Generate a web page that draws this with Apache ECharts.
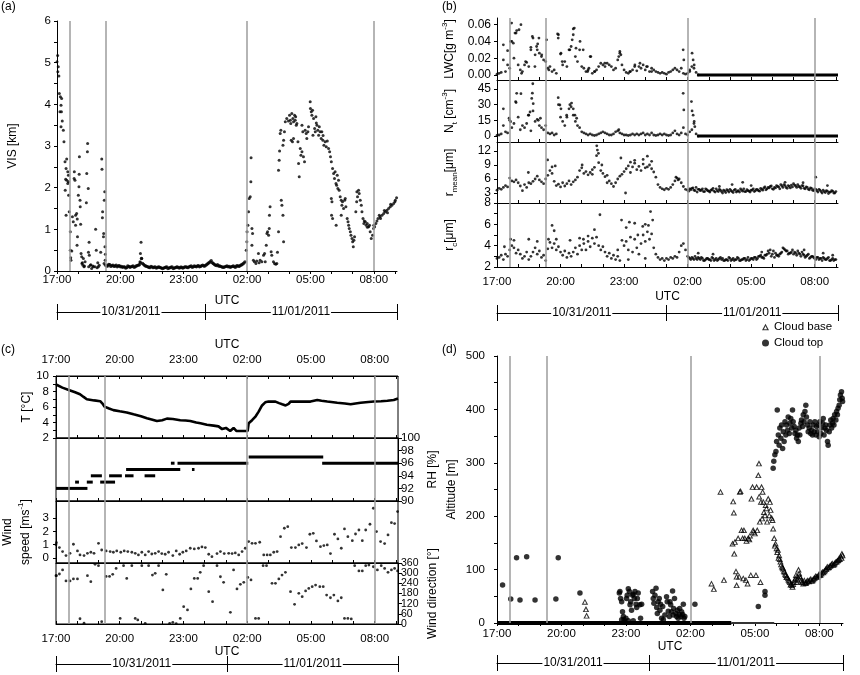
<!DOCTYPE html>
<html>
<head>
<meta charset="utf-8">
<title>Fog event 10/31-11/01/2011</title>
<script src="https://cdn.jsdelivr.net/npm/echarts@6.0.0/dist/echarts.min.js"></script>
<style>
  html, body { margin: 0; padding: 0; background: #fff; }
  #chart { width: 860px; height: 675px; }
</style>
</head>
<body>
<div id="chart"></div>
<script>
// time is given in hours since 10/31/2011 00:00 UTC (so 26 = 02:00 on 11/01)
var tMin = 17, tMax = 33.1;
var utcTicks = [17, 20, 23, 26, 29, 32];
var hourTicks = [17, 18, 19, 20, 21, 22, 23, 24, 25, 26, 27, 28, 29, 30, 31, 32, 33];
var eventTimes = [17.6, 19.3, 26.0, 32.0];
var dateLabels = ['10/31/2011', '11/01/2011'];
var dateSplits = [24.0, 25.0, 25.07, 24.07];

// (a) visibility [km]
var visBandStart = 19.3, visBandStep = 0.1;
var visBand = [0.14,0.12,0.15,0.13,0.11,0.14,0.12,0.1,
  0.09,0.1,0.08,0.11,0.1,0.12,0.1,0.13,0.15,0.3,
  0.16,0.12,0.1,0.08,0.1,0.09,0.07,0.1,0.08,0.06,
  0.08,0.1,0.07,0.09,0.06,0.08,0.1,0.07,0.09,0.08,
  0.1,0.08,0.11,0.09,0.12,0.1,0.13,0.11,0.14,0.12,
  0.16,0.2,0.25,0.18,0.14,0.15,0.12,0.1,0.09,0.11,
  0.1,0.09,0.11,0.1,0.12,0.11,0.14,0.17,0.22];
var visBand2Start = 19.35;
var visBand2 = [0.12,0.16,0.11,0.14,0.12,0.1,0.13,0.11,
  0.1,0.07,0.12,0.09,0.11,0.09,0.12,0.14,0.2,0.18,
  0.13,0.11,0.09,0.11,0.08,0.1,0.08,0.09,0.07,0.07,
  0.09,0.06,0.08,0.1,0.07,0.09,0.08,0.09,0.07,0.1,
  0.09,0.1,0.12,0.1,0.11,0.12,0.1,0.13,0.12,0.14,
  0.18,0.22,0.2,0.16,0.13,0.12,0.11,0.09,0.1,0.12,
  0.11,0.1,0.12,0.09,0.13,0.12,0.15,0.19];
var visPoints = [[17.0,5.02],[17.03,5.17],[17.06,4.9],[17.04,4.78],[17.09,4.68],[17.11,4.26],[17.16,4.18],[17.22,4.14],[17.19,3.98],[17.14,3.82],[17.21,3.82],[17.19,3.46],[17.25,3.6],[17.3,3.38],[17.33,3.1],[17.38,2.62],[17.46,2.69],[17.43,2.46],[17.51,2.38],[17.54,2.3],[17.41,2.2],[17.46,2.18],[17.54,2.14],[17.51,2.1],[17.39,1.94],[17.55,1.82],[17.43,1.34],[17.58,1.42],[17.63,0.94],[17.63,0.5],[17.7,0.48],[17.65,0.32],[17.66,0.26],[17.73,1.3],[17.77,1.18],[17.82,2.38],[17.81,2.22],[17.85,2.18],[17.88,1.34],[17.88,1.1],[17.93,1.38],[17.96,1.25],[17.95,0.62],[17.97,0.82],[18.01,1.82],[18.04,2.02],[18.06,2.74],[18.05,2.32],[18.09,1.7],[18.1,1.54],[18.12,1.12],[18.14,0.42],[18.17,0.34],[18.18,0.18],[18.23,0.14],[18.25,0.3],[18.33,0.22],[18.39,1.64],[18.41,2.34],[18.44,2.86],[18.45,3.06],[18.48,1.98],[18.52,0.69],[18.49,0.45],[18.53,0.38],[18.58,0.14],[18.64,0.06],[18.72,0.1],[18.83,1.0],[18.86,0.5],[18.93,0.2],[18.96,0.1],[19.07,0.45],[19.12,2.69],[19.13,2.44],[19.15,1.28],[19.16,1.42],[19.2,0.82],[19.21,0.9],[19.24,1.7],[19.26,1.9],[19.27,0.58],[19.29,0.4],[19.23,0.18],[19.28,0.26],
  [18.2,0.2],[18.3,0.12],[18.5,0.1],[18.6,0.15],[18.7,0.12],[18.8,0.1],[19.0,0.14],[18.9,0.08],[18.28,0.1],
  [20.98,0.69],[20.95,0.42],[21.01,0.3],[20.93,0.22],
  [25.96,0.5],[25.99,0.7],[26.0,0.94],[26.04,1.1],[26.07,1.42],[26.1,1.74],[26.15,1.78],[26.18,2.14],[26.19,2.72],[26.23,1.02],[26.23,0.62],[26.26,0.9],[26.3,0.26],[26.35,0.22],[26.42,0.18],[26.46,0.24],[26.54,0.42],[26.57,0.2],[26.62,0.26],[26.7,0.22],[26.78,0.38],[26.83,0.42],[26.86,0.22],[26.91,0.62],[26.94,0.9],[26.97,0.94],[27.02,0.86],[27.05,1.02],[27.06,1.34],[27.09,1.54],[27.14,0.46],[27.17,0.38],[27.25,0.22],[27.3,0.18],[27.36,0.16],[27.41,0.18],[27.44,0.45],[27.49,0.94],[27.49,2.42],[27.52,2.66],[27.54,2.88],[27.57,3.3],[27.6,3.38],[27.62,1.7],[27.65,1.58],[27.7,1.34],[27.73,0.7],[27.7,3.02],[27.73,3.14],[27.77,3.34],[27.81,3.58],[27.88,3.66],[27.96,3.6],[28.01,3.74],[28.07,3.54],[28.12,3.78],[28.17,3.66],[28.2,3.58],[28.25,3.74],[28.28,3.62],[28.33,3.5],[28.2,3.18],[28.15,3.1],[28.09,3.14],[28.36,3.54],[28.41,3.1],[28.44,2.58],[28.47,2.26],[28.52,2.94],[28.55,2.78],[28.6,3.5],[28.6,2.86],[28.64,3.34],[28.67,2.74],[28.72,2.62],[28.75,3.38],[28.8,3.3],[28.83,3.18],[28.88,3.34],[28.91,3.46],[28.99,4.06],[29.04,3.82],[29.07,3.74],[29.1,3.86],[29.12,3.26],[29.15,3.66],[29.2,3.42],[29.23,3.34],[29.26,3.7],[29.31,3.5],[29.35,3.38],[29.39,3.26],[29.42,3.46],[29.46,3.34],[29.51,3.18],[29.54,3.34],[29.59,3.14],[29.64,3.02],[29.7,3.1],[29.75,2.98],[29.8,3.12],[29.86,2.94],[29.91,2.86],[29.95,2.74],[29.99,2.62],[30.05,2.46],[30.1,2.34],[30.14,2.22],[30.17,2.38],[30.21,2.1],[30.24,2.06],[30.27,2.3],[30.3,1.98],[30.33,2.18],[30.36,1.94],[29.99,1.74],[30.02,1.66],[30.0,1.34],[30.05,1.26],[30.41,1.78],[30.46,1.7],[30.49,1.58],[30.52,1.66],[30.57,1.5],[30.62,1.7],[30.65,1.74],[30.68,1.54],[30.22,1.1],[30.46,1.34],[30.74,1.26],[30.78,1.18],[30.81,1.1],[30.84,1.02],[30.89,0.94],[30.92,0.86],[30.97,0.78],[31.0,0.7],[31.03,0.58],[31.06,0.74],[31.09,0.82],[31.15,1.42],[31.19,1.66],[31.23,1.78],[31.28,1.94],[31.31,1.86],[31.36,1.7],[31.41,1.58],[31.44,1.42],[31.49,1.26],[31.53,1.14],[31.6,1.18],[31.64,1.1],[31.69,1.14],[31.76,1.06],[31.8,1.1],[31.83,0.94],[31.88,0.78],[31.94,0.86],[31.99,1.02],[32.04,1.06],[32.1,1.14],[32.2,1.26],[32.26,1.34],[32.32,1.26],[32.39,1.34],[32.47,1.38],[32.55,1.42],[32.62,1.46],[32.7,1.5],[32.78,1.54],[32.86,1.58],[32.94,1.62],[33.02,1.7],[33.08,1.76],
  [28.05,3.62],[28.3,3.7],[29.0,3.9],[29.28,3.55],[29.6,3.25],[31.55,1.2],[31.7,1.05],[32.0,1.1],[32.15,1.2],[32.3,1.3],[32.5,1.45],[32.65,1.4],[32.8,1.6],[33.0,1.66],[31.2,1.9]];

// (b) microphysics, sampled every 0.1 h from 17:00
var bStart = 17.0, bStep = 0.1;
var lwcValues = [0.001,0.002,0.003,0.018,0.004,0.012,
  0.008,0.04,0.02,0.05,0.012, 0.006,0.004,0.012,0.015,0.01, 0.03,0.044,0.024,0.03,0.026,
  0.022,0.018,0.016,0.008,0.01, 0.004,0.006,0.002,0.048,0.025, 0.012,0.016,0.01,0.03,0.034,
  0.055,0.022,0.016,0.03,0.01, 0.008,0.004,0.006,0.022,0.002, 0.004,0.006,0.01,0.014,0.012,
  0.01,0.014,0.012,0.01,0.006, 0.008,0.018,0.026,0.012,0.006, 0.003,0.002,0.004,0.006,0.01,
  0.005,0.01,0.008,0.012,0.006, 0.01,0.004,0.008,0.006,0.004, 0.003,0.002,0.003,0.002,0.001,
  0.003,0.004,0.006,0.008,0.006, 0.004,0.008,0.002,0.001,0.002, 0.006,0.01,0.008,0.003,0.0];
var lwcExtra = [[17.3,0.036],[17.5,0.029],[17.64,0.04],[17.69,0.062],[17.77,0.038],[17.85,0.05],[17.93,0.053],[18.04,0.054],[18.13,0.06],[18.16,0.002],[18.35,0.016],[18.6,0.033],[18.67,0.046],[18.79,0.01],[18.87,0.034],[18.92,0.037],[18.98,0.044],[19.11,0.024],[19.34,0.042],[19.45,0.006],[19.86,0.049],[19.89,0.044],[20.02,0.026],[20.08,0.016],[20.44,0.03],[20.55,0.042],[20.6,0.048],[20.65,0.056],[20.73,0.032],[20.92,0.04],[21.07,0.03],[21.28,0.004],[21.34,0.008],[21.43,0.022],[21.62,0.004],[22.09,0.014],[22.75,0.022],[22.8,0.028],[22.85,0.024],[23.27,0.004],[23.51,0.012],[23.75,0.014],[24.06,0.01],[24.3,0.004],[25.79,0.03],[25.82,0.018],[26.21,0.026],[26.26,0.018],[26.31,0.012],[26.1,0.004]];
var lwcZeroSpan = [26.45, 33.1];
var ntValues = [0.5,1,2,10,4,3,
  15,8,12,32,18, 6,10,8,12,20, 5,24,14,16,10, 8,6,10,3,2, 3,1,2,30,18, 14,10,18,26,28,
  20,14,10,8,4, 3,2,1,2,1, 0.5,1,2,3,4, 3,2,1,1,2, 4,5,3,2,1, 1,0.5,1,2,1,
  2,1,2,3,1, 2,1,3,1,0.5, 1,2,1,2,1, 0.5,1,3,5,2, 1,3,8,2,1, 4,6,12,2,0];
var ntExtra = [[17.3,26],[17.57,17],[17.64,13.7],[17.88,33],[17.93,40.9],[18.13,40.5],[18.48,20],[18.56,23],[18.64,36],[18.67,41],[18.69,50],[18.71,31],[18.95,15],[19.05,17],[19.89,36.7],[19.97,29.7],[20.02,26],[20.29,20],[20.44,30],[20.52,31.5],[20.6,26],[20.68,20],[20.76,17],[22.75,6],[25.79,40.9],[25.82,25],[26.18,33],[26.21,24],[26.26,20],[26.31,14],[26.34,9]];
var ntZeroSpan = [26.45, 33.1];
var rmeanValues = [3.6,4.0,3.8,4.2,4.6,4.3,
  6.2,5.6,5.4,5.8,5.2, 4.5,3.5,4.8,4.2,5.2, 5.0,5.5,6.0,6.6,5.8, 5.4,5.0,6.0,6.8,7.8,
  8.6,5.5,4.6,4.9,4.3, 5.2,4.5,5.0,5.6,4.8, 5.4,5.8,6.4,7.8,8.4, 7.2,7.6,6.9,7.4,7.0,
  8.5,11.0,9.5,7.8,7.2, 6.5,6.8,5.6,5.0,4.4, 5.2,6.0,6.6,7.0,7.6, 8.2,8.8,7.4,8.6,9.4,
  8.0,8.7,7.8,9.2,8.4, 8.6,9.0,8.2,7.5,6.4, 4.8,4.2,3.9,3.7,4.0, 3.8,4.2,4.8,5.6,6.2,
  6.0,5.2,4.4,3.8,3.6,
  3.9,4.0,3.6,4.2,3.8,3.5,3.9,3.3,3.7,3.4, 3.6,4.0,3.2,3.5,3.8,3.3,3.6,3.1,3.5,3.8,
  3.3,3.6,3.2,3.5,3.9,3.4,3.3,3.7,3.4,3.6, 3.9,3.5,3.7,3.4,3.8,4.1,3.7,4.2,4.4,3.9,
  4.2,4.6,4.3,4.8,4.2,4.6,4.0,4.4,4.7,5.0, 4.5,4.8,4.3,4.6,4.0,4.3,3.8,4.1,3.6,3.9,
  3.5,3.8,3.3,3.6,3.1,3.4,3.2,3.5,3.0,3.3];
var rmeanBStart = 26.05;
var rmeanB = [3.4,3.7,4.1,3.5,3.2,3.8,3.6,3.3,3.9,3.5, 3.2,3.7,3.4,3.9,3.3,3.6,3.0,3.4,3.7,3.2,
  3.5,3.1,3.8,3.4,3.2,3.6,3.9,3.3,3.5,3.2, 3.6,3.3,3.8,3.5,4.0,3.6,4.3,3.9,4.1,4.5,
  3.8,4.1,4.4,3.9,4.5,4.8,4.2,4.6,4.1,4.3, 4.7,4.2,4.4,4.0,4.5,3.9,4.2,3.7,4.0,3.5,
  3.8,3.2,3.6,3.0,3.3,3.5,2.9,3.2,3.4,3.0];
var rmeanExtra = [[18.48,7.4],[19.39,10.1],[19.75,8.8],[19.6,7.2],[21.02,9.0],[21.71,13.1],[21.74,12.2],[21.79,11.5],[21.5,8.0],[22.85,10.5],[23.07,3.0],[23.3,9.6],[23.5,10.0],[23.9,10.2],[24.1,10.9],[24.3,9.8],[22.2,5.2],[21.95,9.0],[25.45,6.4],[25.55,5.8],[28.1,4.8],[28.6,5.3],[29.0,4.6],[27.5,4.4],[31.45,5.2],[32.05,6.4],[32.6,4.6],[30.6,5.3]];
var rcValues = [2.8,2.9,3.1,2.7,3.2,3.0,
  3.6,4.0,3.8,3.3,3.6, 3.2,2.8,3.0,3.4,2.7, 3.0,3.4,3.8,3.2,3.5, 2.9,3.1,2.6,3.7,4.3,
  3.8,4.2,3.6,3.9,3.4, 3.1,3.5,2.9,3.3,3.0, 3.4,3.8,3.2,4.0,3.6, 4.2,3.6,4.4,3.9,4.7,
  4.2,4.8,4.0,3.6,3.9, 3.4,3.0,3.3,2.8,3.1, 2.7,3.0,2.6,4.5,4.0, 4.4,3.6,4.8,3.4,4.6,
  3.8,3.2,4.2,5.0,4.4, 5.3,4.6,5.1,3.8,3.2, 2.9,2.7,2.8,2.6,2.8, 2.7,2.9,2.8,3.0,2.9,
  3.4,4.0,4.2,3.6,3.0,
  2.8,2.9,2.7,2.8,2.9,2.7,2.8,2.6,2.8,2.7, 2.6,2.8,2.7,2.6,2.8,2.7,2.6,2.7,2.6,2.8,
  2.7,2.6,2.7,2.8,2.6,2.7,2.8,2.7,2.6,2.8, 2.7,2.9,2.8,3.0,2.9,2.8,3.1,3.5,3.6,3.2,
  2.9,3.1,3.0,3.3,3.8,3.6,3.5,3.3,3.4,3.2, 3.3,3.5,3.2,3.4,3.1,3.0,3.2,2.9,3.0,2.8,
  2.9,2.7,2.8,2.9,2.7,2.8,2.6,2.7,2.6,2.7];
var rcBStart = 26.05;
var rcB = [2.9,2.7,2.8,3.0,2.7,2.8,2.9,2.6,2.7,2.8, 2.7,2.9,2.6,2.8,2.7,2.9,2.8,2.6,2.7,2.9,
  2.6,2.8,2.7,2.9,2.6,2.7,2.8,2.6,2.9,2.7, 2.8,2.9,2.7,3.0,3.1,2.9,3.1,3.2,3.3,3.0,
  3.5,3.3,3.1,3.2,3.4,3.7,3.5,3.2,3.3,3.6, 3.4,3.1,3.3,3.0,3.2,2.9,3.1,2.8,3.0,2.9,
  2.7,2.9,2.8,2.6,2.8,2.7,2.9,2.6,2.8,2.7];
var rcExtra = [[17.35,3.9],[17.64,4.6],[17.8,4.5],[18.5,4.6],[18.9,4.4],[19.43,4.6],[19.6,5.9],[19.7,5.4],[19.8,4.6],[20.45,4.5],[20.9,4.7],[21.08,4.6],[21.3,4.9],[21.86,6.9],[21.6,5.5],[22.88,6.4],[23.1,5.7],[23.25,6.2],[23.5,6.1],[23.65,5.0],[23.88,5.8],[24.0,6.0],[24.15,5.9],[24.25,7.2],[24.35,6.4],[24.0,2.8],[23.2,2.7],[22.7,3.6],[26.5,3.3],[27.2,3.2],[29.5,3.4],[31.5,3.6],[32.4,3.3],[32.85,3.1]];

// (c) surface meteorology
var tempPoints = [[17.0,8.9],[17.3,8.5],[17.6,8.2],[17.9,7.9],[18.13,7.65],[18.3,7.3],[18.45,7.0],[18.8,6.85],[19.08,6.75],[19.2,6.4],[19.28,6.05],[19.5,5.8],[19.7,5.6],[20.0,5.45],[20.33,5.3],[20.65,5.05],[21.0,4.8],[21.28,4.55],[21.5,4.4],[21.75,4.2],[22.0,4.3],[22.22,4.5],[22.5,4.45],[22.85,4.3],[23.1,4.25],[23.32,4.2],[23.6,4.0],[23.8,3.9],[24.1,3.7],[24.42,3.6],[24.65,3.5],[24.82,3.15],[25.0,3.3],[25.2,2.9],[25.36,3.3],[25.5,2.9],[25.8,2.9],[26.02,2.9],[26.07,3.9],[26.23,4.3],[26.4,4.8],[26.54,5.4],[26.7,6.2],[26.85,6.6],[27.0,6.7],[27.33,6.7],[27.5,6.5],[27.65,6.35],[27.81,6.2],[27.95,6.4],[28.04,6.7],[28.5,6.7],[28.98,6.7],[29.3,6.9],[29.5,6.8],[29.77,6.7],[30.24,6.55],[30.6,6.45],[30.87,6.35],[31.1,6.45],[31.34,6.55],[31.7,6.65],[31.97,6.7],[32.3,6.75],[32.6,6.8],[32.9,6.9],[33.1,7.1]];
var rhStart = [17.0, 17.9, 18.45, 18.64, 19.08, 19.5, 20.25, 20.3, 21.17, 22.41, 22.72, 23.4, 26.07, 29.53];
var rhEnd   = [18.48, 18.08, 18.73, 19.16, 19.78, 20.1, 20.65, 22.85, 21.67, 22.58, 26.05, 23.52, 29.58, 33.1];
var rhValue = [92, 93, 93, 94, 93, 94, 94, 95, 94, 96, 96, 95, 97, 96];
var windSpeed = [[17.0,1.0],[17.02,1.15],[17.16,0.78],[17.31,0.48],[17.47,0.18],[17.66,0.35],[17.82,1.03],[18.01,0.53],[18.13,0.23],[18.32,0.18],[18.48,0.35],[18.64,0.43],[18.79,0.35],[19.0,1.1],[19.15,0.6],[19.36,0.53],[19.55,0.48],[19.7,0.43],[19.86,0.53],[20.05,0.43],[20.21,0.53],[20.38,0.48],[20.57,0.43],[20.73,0.35],[20.88,0.23],[21.04,0.43],[21.2,0.23],[21.36,0.48],[21.51,0.3],[21.67,0.35],[21.83,0.48],[21.98,0.33],[22.14,0.28],[22.3,0.43],[22.5,0.18],[22.66,0.53],[22.82,0.28],[22.97,0.43],[23.13,0.53],[23.32,0.73],[23.51,0.68],[23.71,0.73],[23.87,0.83],[24.03,0.78],[24.19,0.28],[24.34,0.1],[24.58,0.33],[24.74,0.48],[24.92,0.33],[25.13,0.35],[25.29,0.33],[25.44,0.38],[25.6,0.23],[25.76,0.48],[25.91,0.73],[26.07,1.23],[26.23,1.1],[26.39,1.1],[26.59,1.18],[26.78,0.23],[26.94,0.23],[27.09,0.23],[27.25,0.43],[27.41,0.48],[27.57,1.6],[27.75,2.23],[27.91,2.35],[28.08,0.78],[28.27,0.78],[28.43,0.98],[28.59,1.08],[28.79,0.78],[28.95,1.78],[29.11,1.85],[29.26,1.28],[29.45,0.85],[29.61,0.93],[29.77,0.98],[29.92,0.33],[30.11,1.78],[30.27,1.43],[30.43,0.73],[30.58,2.18],[30.74,1.6],[30.95,1.3],[31.1,1.8],[31.26,2.1],[31.42,1.3],[31.58,2.1],[31.78,2.53],[31.94,3.73],[32.09,1.98],[32.28,1.23],[32.47,1.08],[32.63,1.73],[32.79,2.65],[32.94,2.58],[33.08,3.48]];
var windDir = [[17.0,285],[17.02,285],[17.16,295],[17.31,319],[17.47,254],[17.66,254],[17.82,266],[18.01,266],[18.13,31],[18.32,5],[18.48,285],[18.64,250],[18.84,352],[19.0,344],[19.15,14],[19.36,281],[19.52,281],[19.67,293],[19.83,328],[20.02,33],[20.18,344],[20.33,269],[20.57,344],[20.73,33],[20.85,24],[21.04,344],[21.2,4],[21.36,344],[21.54,289],[21.67,299],[21.83,344],[22.03,201],[22.19,293],[22.35,3],[22.5,10],[22.66,2],[22.85,33],[23.01,102],[23.19,83],[23.35,207],[23.51,269],[23.67,269],[23.79,305],[23.95,344],[24.19,191],[24.37,132],[24.58,344],[24.74,279],[24.89,246],[25.21,69],[25.36,319],[25.52,207],[25.68,234],[25.84,246],[26.03,275],[26.18,260],[26.39,33],[26.54,33],[26.75,344],[26.91,344],[27.17,240],[27.33,240],[27.49,266],[27.64,289],[27.8,305],[28.04,191],[28.23,116],[28.43,181],[28.59,161],[28.75,195],[28.9,210],[29.06,220],[29.22,230],[29.42,220],[29.58,220],[29.74,171],[29.92,155],[30.08,171],[30.27,136],[30.43,155],[30.58,33],[30.74,33],[30.9,30],[31.06,344],[31.26,313],[31.42,313],[31.58,344],[31.73,348],[31.94,338],[32.13,319],[32.31,344],[32.47,328],[32.63,305],[32.79,319],[32.94,328],[33.08,313]];

// (d) ceilometer cloud base / top altitude [m]
var cloudTop = [[17.26,71],[17.64,45],[17.91,122],[18.07,43],[18.38,124],[18.77,43],[19.74,45],[19.85,122],[20.86,56],
  [22.69,56],[22.72,59],[22.75,46],[22.8,40],[22.84,21],[22.88,12],[22.91,6],[22.95,2],[23.0,9],[23.03,46],[23.06,52],[23.11,64],[23.16,59],[23.19,34],[23.22,40],[23.26,24],[23.31,52],[23.34,54],[23.39,46],[23.42,59],[23.47,35],[23.5,29],[23.53,46],[23.57,56],[23.65,34],[23.68,9],[23.73,35],[22.8,6],[23.11,4],[23.34,4],
  [24.24,59],[24.27,46],[24.3,37],[24.35,52],[24.4,65],[24.43,29],[24.46,18],[24.5,40],[24.55,46],[24.58,24],[24.61,35],[24.66,9],[24.71,31],[24.74,6],[24.81,15],[24.89,49],[24.92,40],[24.97,22],[25.02,12],[25.05,40],[25.08,34],[25.12,21],[25.17,60],[25.2,15],[25.22,27],[25.26,46],[25.33,18],[25.36,12],[25.39,24],[25.43,9],[25.48,16],[25.5,27],[25.56,12],[25.59,21],[25.64,16],[25.67,35],[25.7,9],[25.74,12],
  [26.21,35],[29.16,31],[29.47,59],[29.47,52],
  [29.85,290],[29.88,303],[29.93,315],[29.98,321],[30.01,340],[30.04,399],[30.09,352],[30.13,333],[30.16,365],[30.21,346],[30.24,371],[30.29,327],[30.32,358],[30.36,340],[30.4,377],[30.44,352],[30.47,371],[30.52,361],[30.55,386],[30.6,355],[30.63,374],[30.67,383],[30.71,365],[30.75,399],[30.78,377],[30.83,368],[30.86,355],[30.91,361],[30.94,346],[30.98,352],[31.02,340],[31.06,365],[31.09,352],[31.14,374],[31.17,380],[31.22,368],[31.25,390],[31.29,377],[31.33,396],[31.37,408],[31.4,386],[31.45,371],[31.48,358],[31.53,365],[31.56,377],[31.6,355],[31.64,361],[31.68,352],[31.71,371],[31.76,358],[31.79,377],[31.84,352],[31.87,368],[31.91,358],[31.95,371],[31.99,349],[32.02,377],[32.07,355],[32.1,365],[32.15,374],[32.18,383],[32.22,352],[32.26,365],[32.3,371],[32.33,361],[32.38,340],[32.41,333],[32.46,358],[32.49,371],[32.53,380],[32.57,365],[32.61,374],[32.64,383],[32.68,371],[32.71,390],[32.77,380],[32.8,396],[32.84,390],[32.87,402],[32.92,408],[32.95,418],[32.98,427],[33.03,433],[33.06,421],[33.08,415]];
var cloudBase = [[21.09,40],[21.14,26],[21.17,14],[26.98,74],[27.09,64],[27.4,246],[27.56,81],
  [27.96,149],[27.99,228],[28.02,207],[28.04,130],[28.07,152],[28.12,97],[28.15,71],[28.15,87],[28.22,159],[28.27,87],[28.3,246],[28.33,247],[28.38,174],[28.43,159],[28.46,84],[28.49,174],[28.53,159],[28.58,81],[28.61,154],[28.66,74],[28.69,159],[28.74,157],[28.77,164],[28.81,90],[28.84,233],[28.89,255],[28.92,174],[28.95,171],[29.0,168],[29.05,90],[29.08,255],[29.11,174],[29.16,277],[29.19,299],[29.2,237],[29.23,190],[29.26,77],[29.28,227],[29.31,255],[29.34,196],[29.36,246],[29.39,227],[29.42,208],[29.47,202],[29.5,221],[29.54,215],[29.57,190],[29.62,233],[29.67,202],[29.7,227],[29.73,212],[29.78,197],[29.82,193],[29.85,177],
  [29.9,159],[29.96,149],[30.01,140],[30.07,137],[30.13,127],[30.19,115],[30.26,106],[30.32,102],[30.38,96],[30.44,90],[30.5,87],[30.57,81],[30.63,77],[30.69,74],[30.75,68],[30.81,77],[30.88,84],[30.94,77],[31.0,87],[31.06,93],[31.12,85],[31.19,77],[31.25,74],[31.33,76],[31.4,77],[31.48,79],[31.56,81],[31.64,79],[31.71,82],[31.79,85],[31.87,87],[31.95,89],[32.02,90],[32.1,93],[32.18,95],[32.26,99],[32.33,102],[32.41,104],[32.49,107],[32.57,110],[32.64,109],[32.71,112],[32.8,115],[32.88,118],[32.95,120],[33.03,122],[33.08,127],
  [29.93,145],[30.04,133],[30.1,122],[30.16,120],[30.22,110],[30.29,104],[30.35,98],[30.41,92],[30.47,86],[30.54,84],[30.6,79],[30.66,72],[30.72,71],[30.78,73],[30.85,80],[30.91,90],[30.97,82],[31.03,100],[31.09,88],[31.15,80],[31.22,78],[31.3,80],[31.37,75],[31.44,80],[31.52,78],[31.6,83],[31.68,80],[31.75,84],[31.83,88],[31.91,86],[31.99,92],[32.06,91],[32.14,96],[32.22,97],[32.3,101],[32.37,106],[32.45,105],[32.53,108],[32.6,112],[32.68,110],[32.75,114],[32.84,117],[32.91,121],[32.99,125],[33.05,130]];
var cloudZeroSpan = [17.0, 27.9];
var cloudZeroThinSpan = [27.9, 29.9];

var font = '"Liberation Sans", Arial, Helvetica, sans-serif';
// open triangle: outer outline with a reversed inner hole
var openTriangle = 'path://M5,0L10,9L0,9Z M5,3.1L2.7,7.7L7.3,7.7Z';

function stepPairs(start, step, values) {
    return values.map(function (v, i) {
        return [Math.round((start + i * step) * 100) / 100, v];
    });
}

function clockLabel(v) {
    var h = Math.round(v) % 24;
    return (h < 10 ? '0' + h : '' + h) + ':00';
}

var nameRich = {
    n: { fontSize: 12, fontFamily: font, color: '#000', lineHeight: 18 },
    sub: { fontSize: 8, fontFamily: font, color: '#000', lineHeight: 8, verticalAlign: 'bottom' },
    sup: { fontSize: 8, fontFamily: font, color: '#000', lineHeight: 8, verticalAlign: 'top' }
};

var grids = [], xAxes = [], yAxes = [], series = [];

function addGrid(left, top, width, height, box) {
    grids.push({
        left: left, top: top, width: width, height: height,
        show: !!box, borderColor: '#000', borderWidth: 1,
        backgroundColor: 'rgba(0,0,0,0)', outerBoundsMode: 'none'
    });
    return grids.length - 1;
}

function addTimeAxis(g, o) {
    o = o || {};
    xAxes.push({
        type: 'value', gridIndex: g, min: tMin, max: tMax,
        position: o.position || 'bottom',
        name: o.name || '', nameLocation: 'middle', nameGap: o.nameGap || 20,
        nameTextStyle: { color: '#000', fontSize: 12, fontFamily: font },
        axisLine: { show: true, onZero: false, lineStyle: { color: '#000', width: 1 } },
        axisTick: { show: true, inside: !!o.inside, length: 3, customValues: hourTicks, lineStyle: { color: '#000' } },
        axisLabel: {
            show: !!o.labels, customValues: utcTicks, formatter: clockLabel,
            showMinLabel: true, showMaxLabel: true, hideOverlap: false,
            color: '#000', fontSize: 11.5, fontFamily: font, margin: o.margin || 4
        },
        splitLine: { show: false }
    });
    return xAxes.length - 1;
}

// date bar under a panel: two axes, one with ticks down + labels, one with ticks up
function addDateBar(g, offset, split) {
    var mids = [(tMin + split) / 2, (split + tMax) / 2];
    xAxes.push({
        type: 'value', gridIndex: g, min: tMin, max: tMax, position: 'bottom', offset: offset,
        axisLine: { show: true, onZero: false, lineStyle: { color: '#000', width: 1 } },
        axisTick: { show: true, length: 8, customValues: [tMin, split, tMax], lineStyle: { color: '#000' } },
        axisLabel: {
            show: true, customValues: mids, margin: -6, showMinLabel: true, showMaxLabel: true, hideOverlap: false,
            formatter: function (v) { return v < split ? dateLabels[0] : dateLabels[1]; },
            backgroundColor: '#fff', padding: [0, 1], color: '#000', fontSize: 12, fontFamily: font
        },
        splitLine: { show: false }
    });
    xAxes.push({
        type: 'value', gridIndex: g, min: tMin, max: tMax, position: 'bottom', offset: offset,
        axisLine: { show: false, onZero: false },
        axisTick: { show: true, inside: true, length: 8, customValues: [tMin, split, tMax], lineStyle: { color: '#000' } },
        axisLabel: { show: false },
        splitLine: { show: false }
    });
}

function addValueAxis(g, o) {
    var label = {
        show: true, customValues: o.labels, formatter: o.fmt,
        showMinLabel: true, showMaxLabel: true, hideOverlap: false,
        color: '#000', fontSize: o.fontSize || 11.5, fontFamily: font, margin: o.margin || 5
    };
    if (o.labelLineHeight) label.lineHeight = o.labelLineHeight;
    yAxes.push({
        type: 'value', gridIndex: g, min: o.min, max: o.max,
        position: o.position || 'left',
        name: o.name || '', nameLocation: 'middle', nameGap: o.nameGap || 30, nameRotate: 90,
        nameTextStyle: { color: '#000', fontSize: 12, fontFamily: font, rich: nameRich },
        axisLine: { show: o.line !== false, onZero: false, lineStyle: { color: '#000', width: 1 } },
        axisTick: { show: true, length: o.tickLength || 3, customValues: o.ticks || o.labels, lineStyle: { color: '#000' } },
        axisLabel: label,
        splitLine: { show: false }
    });
    return yAxes.length - 1;
}

function eventLines() {
    return {
        silent: true, symbol: ['none', 'none'], label: { show: false }, animation: false,
        lineStyle: { color: '#9c9c9c', width: 1.5, type: 'solid' },
        data: eventTimes.map(function (t) { return { xAxis: t }; })
    };
}

function dots(xi, yi, data, size, marks) {
    var s = {
        type: 'scatter', xAxisIndex: xi, yAxisIndex: yi, data: data,
        symbol: 'circle', symbolSize: size, itemStyle: { color: '#000' },
        silent: true, animation: false
    };
    if (marks) s.markLine = eventLines();
    return s;
}

function flatLine(xi, yi, span, width, color) {
    return {
        type: 'line', xAxisIndex: xi, yAxisIndex: yi,
        data: [[span[0], 0], [span[1], 0]], symbol: 'none', silent: true, animation: false,
        lineStyle: { color: color || '#000', width: width }
    };
}

// ---------- (a) visibility ----------
var gA = addGrid(57, 21, 340, 250, false);
var xA = addTimeAxis(gA, { labels: true, name: 'UTC', nameGap: 24, margin: 3 });
addDateBar(gA, 41, dateSplits[0]);
var yA = addValueAxis(gA, { min: 0, max: 6, labels: [0, 1, 2, 3, 4, 5, 6],
    ticks: [0, 0.5, 1, 1.5, 2, 2.5, 3, 3.5, 4, 4.5, 5, 5.5, 6], name: 'VIS [km]', nameGap: 38, margin: 6 });
series.push(dots(xA, yA, stepPairs(visBandStart, visBandStep, visBand), 3.4, true));
series.push(dots(xA, yA, stepPairs(visBand2Start, visBandStep, visBand2), 3.4));
series.push(dots(xA, yA, visPoints, 3));

// ---------- (b) LWC, Nt, r_mean, r_c ----------
var gB1 = addGrid(497, 18, 341, 62, false);
var gB2 = addGrid(497, 80, 341, 62, false);
var gB3 = addGrid(497, 142, 341, 61, false);
var gB4 = addGrid(497, 203, 341, 64, false);
var xB1 = addTimeAxis(gB1, { inside: true });
var xB2 = addTimeAxis(gB2, { inside: true });
var xB3 = addTimeAxis(gB3, { inside: true });
var xB4 = addTimeAxis(gB4, { inside: true, labels: true, margin: 9, name: 'UTC', nameGap: 24 });
addDateBar(gB4, 46, dateSplits[1]);
var yB1 = addValueAxis(gB1, { min: -0.006, max: 0.068, labels: [0, 0.02, 0.04, 0.06], fontSize: 12,
    fmt: function (v) { return v.toFixed(2); }, name: '{n|LWC[g m}{sup|-3}{n|]}', nameGap: 38, margin: 6 });
var yB2 = addValueAxis(gB2, { min: -5.7, max: 53.6, labels: [0, 15, 30, 45], fontSize: 12,
    name: '{n|N}{sub|t}{n| [cm}{sup|-3}{n|]}', nameGap: 38, margin: 6 });
var yB3 = addValueAxis(gB3, { min: 0.86, max: 13.93, labels: [3, 6, 9, 12], fontSize: 12,
    name: '{n|r}{sub|mean}{n|[μm]}', nameGap: 38, margin: 6 });
var yB4 = addValueAxis(gB4, { min: 2, max: 8, labels: [2, 4, 6, 8], ticks: [2, 3, 4, 5, 6, 7, 8], fontSize: 12,
    name: '{n|r}{sub|c}{n|[μm]}', nameGap: 38, margin: 6 });
series.push(dots(xB1, yB1, stepPairs(bStart, bStep, lwcValues), 2.8, true));
series.push(dots(xB1, yB1, lwcExtra, 2.8));
series.push(flatLine(xB1, yB1, lwcZeroSpan, 3));
series.push(dots(xB2, yB2, stepPairs(bStart, bStep, ntValues), 2.8, true));
series.push(dots(xB2, yB2, ntExtra, 2.8));
series.push(flatLine(xB2, yB2, ntZeroSpan, 3));
series.push(dots(xB3, yB3, stepPairs(bStart, bStep, rmeanValues), 2.8, true));
series.push(dots(xB3, yB3, stepPairs(rmeanBStart, bStep, rmeanB), 2.8));
series.push(dots(xB3, yB3, rmeanExtra, 2.8));
series.push(dots(xB4, yB4, stepPairs(bStart, bStep, rcValues), 2.8, true));
series.push(dots(xB4, yB4, stepPairs(rcBStart, bStep, rcB), 2.8));
series.push(dots(xB4, yB4, rcExtra, 2.8));

// ---------- (c) T, RH, wind ----------
var gC1 = addGrid(56, 376, 342, 62, true);
var gC2 = addGrid(56, 438, 342, 63, true);
var gC3 = addGrid(56, 501, 342, 62, true);
var gC4 = addGrid(56, 563, 342, 61, true);
var xC1 = addTimeAxis(gC1, { inside: true });
addTimeAxis(gC1, { position: 'top', inside: true, labels: true, margin: 10, name: 'UTC', nameGap: 25 });
var xC2 = addTimeAxis(gC2, { inside: true });
var xC3 = addTimeAxis(gC3, { inside: true });
var xC4 = addTimeAxis(gC4, { inside: true, labels: true, margin: 9, name: 'UTC', nameGap: 18 });
addDateBar(gC4, 40, dateSplits[2]);
var yC1 = addValueAxis(gC1, { min: 2, max: 10, labels: [2, 4, 6, 8, 10], ticks: [2, 3, 4, 5, 6, 7, 8, 9, 10],
    name: 'T [°C]', nameGap: 21, margin: 7 });
var yC2 = addValueAxis(gC2, { min: 90, max: 100, position: 'right', labels: [90, 92, 94, 96, 98, 100],
    name: 'RH [%]', nameGap: 29, margin: 3, tickLength: 4, labelLineHeight: 9 });
var yC3 = addValueAxis(gC3, { min: -0.375, max: 4.275, labels: [0, 1, 2, 3],
    name: '{n|Wind}\n{n|speed [ms}{sup|-1}{n|]}', nameGap: 21, margin: 7 });
// wind direction labels are tightly packed: split across two overlaid axes so none is dropped
var yC4 = addValueAxis(gC4, { min: 0, max: 360, position: 'right', labels: [0, 120, 240, 360],
    name: 'Wind direction [°]', nameGap: 29, margin: 3, tickLength: 4, fontSize: 10.5 });
addValueAxis(gC4, { min: 0, max: 360, position: 'right', labels: [60, 180, 300],
    line: false, margin: 3, tickLength: 4, fontSize: 10.5 });
series.push({
    type: 'line', xAxisIndex: xC1, yAxisIndex: yC1, data: tempPoints, symbol: 'none',
    silent: true, animation: false, lineStyle: { color: '#000', width: 2.6 }, markLine: eventLines()
});
series.push({
    type: 'custom', xAxisIndex: xC2, yAxisIndex: yC2, silent: true, animation: false,
    data: rhStart.map(function (s, i) { return [s, rhEnd[i], rhValue[i]]; }),
    encode: { x: [0, 1], y: 2 },
    renderItem: function (params, api) {
        var p1 = api.coord([api.value(0), api.value(2)]);
        var p2 = api.coord([api.value(1), api.value(2)]);
        return { type: 'line', shape: { x1: p1[0], y1: p1[1], x2: p2[0], y2: p2[1] },
            style: { stroke: '#000', lineWidth: 3 } };
    },
    markLine: eventLines()
});
series.push(dots(xC3, yC3, windSpeed, 2.8, true));
series.push(dots(xC4, yC4, windDir, 2.8, true));

// ---------- (d) cloud base / top ----------
var gD = addGrid(497, 356, 346, 267, false);
var xD = addTimeAxis(gD, { labels: true, margin: 5, name: 'UTC', nameGap: 17 });
addDateBar(gD, 40, dateSplits[3]);
var yD = addValueAxis(gD, { min: 0, max: 500, labels: [0, 100, 200, 300, 400, 500],
    ticks: [0, 50, 100, 150, 200, 250, 300, 350, 400, 450, 500], name: 'Altitude [m]', nameGap: 39, margin: 12 });
series.push(flatLine(xD, yD, cloudZeroSpan, 4));
series.push(flatLine(xD, yD, cloudZeroThinSpan, 2, '#333'));
series.push({
    name: 'Cloud base', type: 'scatter', xAxisIndex: xD, yAxisIndex: yD, data: cloudBase,
    symbol: openTriangle, symbolSize: [6.5, 6], silent: true, animation: false,
    itemStyle: { color: '#000' }, markLine: eventLines()
});
series.push({
    name: 'Cloud top', type: 'scatter', xAxisIndex: xD, yAxisIndex: yD, data: cloudTop,
    symbol: 'circle', symbolSize: 5.5, silent: true, animation: false, itemStyle: { color: '#000' }
});

var panelTitle = function (text, left, top) {
    return { text: text, left: left, top: top, padding: 0,
        textStyle: { fontSize: 12, fontWeight: 'normal', fontFamily: font, color: '#000' } };
};

var chart = echarts.init(document.getElementById('chart'), null, { renderer: 'canvas' });
chart.setOption({
    animation: false,
    backgroundColor: '#fff',
    title: [panelTitle('(a)', 1, 1), panelTitle('(b)', 442, 1), panelTitle('(c)', 1, 344), panelTitle('(d)', 442, 344)],
    legend: {
        data: ['Cloud base', 'Cloud top'], orient: 'vertical', left: 762, top: 321,
        itemGap: 4, itemWidth: 7, itemHeight: 7, selectedMode: false, padding: 0,
        textStyle: { fontSize: 11.5, color: '#000', fontFamily: font }
    },
    grid: grids,
    xAxis: xAxes,
    yAxis: yAxes,
    series: series
});
</script>
</body>
</html>
